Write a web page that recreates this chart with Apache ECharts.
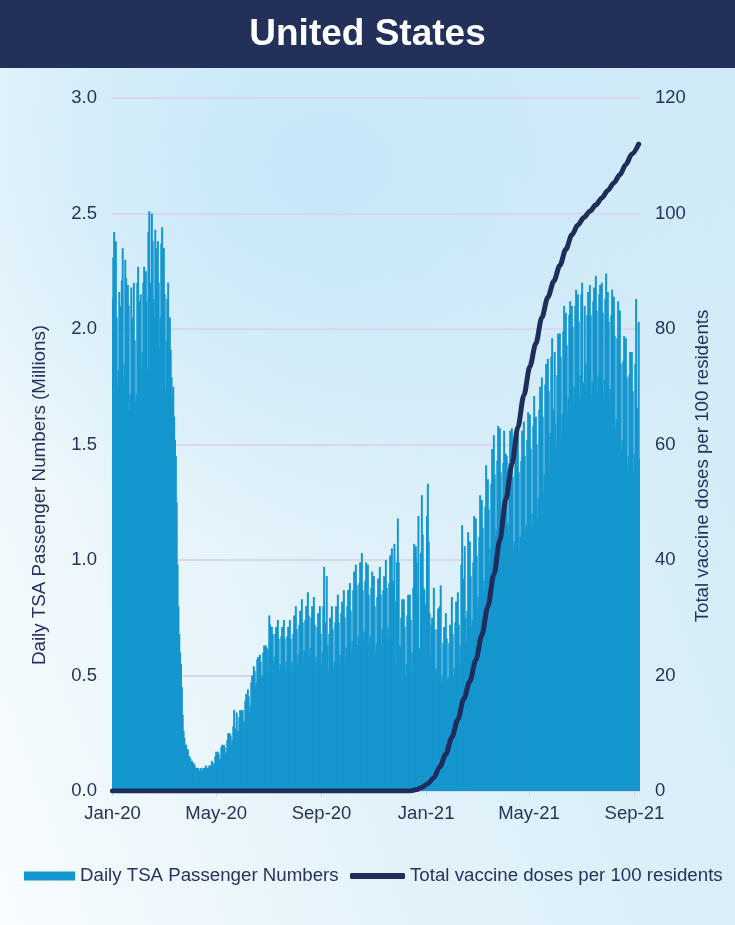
<!DOCTYPE html>
<html>
<head>
<meta charset="utf-8">
<script src="https://cdn.jsdelivr.net/npm/echarts@6/dist/echarts.min.js"></script>
<style>
  html, body { margin: 0; padding: 0; }
  #chart {
    width: 735px; height: 925px;
    background:
      radial-gradient(ellipse 62% 42% at 44% 18%, rgba(196,230,248,0.95) 0%, rgba(196,230,248,0) 100%),
      linear-gradient(70deg, #f8fcfe 0%, #e2f2fa 40%, #d0eaf7 100%);
  }
</style>
</head>
<body>
<div id="chart"></div>
<script>
// Daily TSA checkpoint throughput, millions of passengers (one value per day from 1 Jan 2020)
const tsa2020Jan = [2.13, 2.31, 2.42, 2.24, 2.38, 2.05, 1.75, 1.82, 2.16, 2.10, 1.80, 2.21, 2.35, 1.78, 1.85, 2.30, 2.22, 1.84, 2.19, 2.10, 1.65, 1.72, 2.18, 2.05, 1.66, 2.20, 1.95, 1.68, 1.72, 2.20, 2.27];
const tsa2020Feb = [1.80, 2.12, 2.15, 1.83, 1.90, 2.20, 2.27, 1.95, 2.25, 2.12, 1.82, 2.42, 2.51, 2.20, 1.93, 2.50, 2.38, 2.13, 2.05, 2.43, 2.35, 1.98, 2.38, 2.20, 1.92, 2.05, 2.37, 2.44, 2.00];
const tsa2020Mar = [2.35, 2.15, 1.74, 1.95, 2.13, 2.20, 1.90, 2.05, 1.91, 1.79, 1.71, 1.75, 1.62, 1.52, 1.45, 1.25, 0.98, 0.80, 0.68, 0.60, 0.55, 0.45, 0.33, 0.26, 0.23, 0.20, 0.20, 0.18, 0.18, 0.15, 0.15];
const tsa2020Apr = [0.14, 0.13, 0.13, 0.12, 0.12, 0.11, 0.10, 0.10, 0.10, 0.10, 0.09, 0.09, 0.10, 0.09, 0.09, 0.10, 0.10, 0.09, 0.11, 0.10, 0.10, 0.10, 0.11, 0.11, 0.10, 0.13, 0.12, 0.11, 0.12, 0.15];
const tsa2020May = [0.17, 0.13, 0.17, 0.16, 0.13, 0.14, 0.19, 0.20, 0.15, 0.20, 0.19, 0.16, 0.17, 0.22, 0.25, 0.19, 0.25, 0.24, 0.20, 0.22, 0.28, 0.35, 0.26, 0.27, 0.34, 0.26, 0.26, 0.32, 0.35, 0.27, 0.35];
const tsa2020Jun = [0.35, 0.30, 0.30, 0.39, 0.42, 0.35, 0.44, 0.41, 0.34, 0.37, 0.47, 0.50, 0.42, 0.54, 0.52, 0.45, 0.47, 0.57, 0.58, 0.49, 0.59, 0.56, 0.49, 0.50, 0.60, 0.63, 0.51, 0.63, 0.62, 0.53];
const tsa2020Jul = [0.61, 0.76, 0.72, 0.47, 0.71, 0.68, 0.55, 0.58, 0.68, 0.71, 0.56, 0.74, 0.66, 0.52, 0.55, 0.67, 0.71, 0.56, 0.74, 0.66, 0.53, 0.56, 0.67, 0.71, 0.57, 0.74, 0.66, 0.52, 0.56, 0.68, 0.76];
const tsa2020Aug = [0.59, 0.80, 0.70, 0.55, 0.59, 0.72, 0.78, 0.60, 0.83, 0.73, 0.57, 0.61, 0.74, 0.80, 0.63, 0.86, 0.76, 0.58, 0.62, 0.75, 0.80, 0.62, 0.84, 0.72, 0.54, 0.58, 0.71, 0.77, 0.59, 0.80, 0.68];
const tsa2020Sep = [0.55, 0.60, 0.80, 0.97, 0.68, 0.73, 0.93, 0.63, 0.52, 0.68, 0.75, 0.57, 0.80, 0.70, 0.53, 0.56, 0.73, 0.80, 0.61, 0.85, 0.73, 0.55, 0.59, 0.77, 0.82, 0.62, 0.87, 0.75, 0.58, 0.62];
const tsa2020Oct = [0.80, 0.87, 0.64, 0.90, 0.78, 0.60, 0.65, 0.87, 0.95, 0.70, 0.98, 0.89, 0.63, 0.67, 0.90, 0.99, 0.72, 1.03, 0.87, 0.65, 0.69, 0.91, 0.99, 0.71, 0.98, 0.85, 0.64, 0.67, 0.88, 0.95, 0.64];
const tsa2020Nov = [0.93, 0.80, 0.60, 0.64, 0.84, 0.92, 0.67, 0.97, 0.85, 0.63, 0.70, 0.87, 0.93, 0.70, 1.00, 0.88, 0.66, 0.71, 0.90, 1.02, 0.86, 1.05, 0.91, 0.91, 1.07, 0.56, 0.82, 0.99, 1.18, 0.99];
const tsa2020Dec = [0.63, 0.62, 0.75, 0.83, 0.56, 0.83, 0.71, 0.50, 0.55, 0.76, 0.85, 0.61, 0.85, 0.74, 0.53, 0.60, 0.88, 1.07, 0.91, 1.06, 0.99, 0.84, 1.19, 0.61, 0.62, 1.03, 1.28, 1.11, 0.88, 0.87, 0.81];
const tsa2021Jan = [0.65, 1.19, 1.33, 1.08, 0.77, 0.60, 0.72, 0.75, 0.58, 0.88, 0.70, 0.51, 0.53, 0.70, 0.79, 0.58, 0.80, 0.89, 0.50, 0.47, 0.64, 0.71, 0.52, 0.77, 0.66, 0.48, 0.49, 0.64, 0.72, 0.54, 0.84];
const tsa2021Feb = [0.68, 0.50, 0.53, 0.73, 0.82, 0.60, 0.86, 0.72, 0.56, 0.63, 0.98, 1.15, 0.81, 0.92, 1.06, 0.75, 0.64, 0.78, 1.12, 0.85, 1.08, 0.93, 0.71, 0.74, 0.99, 1.19, 0.91, 1.18];
const tsa2021Mar = [1.02, 0.79, 0.84, 1.10, 1.28, 1.01, 1.26, 1.14, 0.87, 0.91, 1.23, 1.41, 1.15, 1.35, 1.22, 0.99, 1.05, 1.33, 1.48, 1.24, 1.54, 1.37, 1.10, 1.13, 1.43, 1.58, 1.30, 1.57, 1.38, 1.07, 1.10];
const tsa2021Apr = [1.42, 1.56, 1.20, 1.46, 1.45, 1.16, 1.11, 1.42, 1.56, 1.25, 1.57, 1.36, 1.04, 1.08, 1.41, 1.53, 1.20, 1.55, 1.38, 1.05, 1.10, 1.43, 1.56, 1.25, 1.60, 1.45, 1.12, 1.15, 1.52, 1.64];
const tsa2021May = [1.30, 1.63, 1.48, 1.15, 1.20, 1.58, 1.71, 1.35, 1.62, 1.50, 1.18, 1.27, 1.65, 1.75, 1.42, 1.79, 1.62, 1.30, 1.37, 1.76, 1.85, 1.52, 1.87, 1.73, 1.41, 1.55, 1.88, 1.96, 1.65, 1.65, 1.90];
const tsa2021Jun = [1.59, 1.50, 1.80, 1.98, 1.69, 1.98, 1.88, 1.55, 1.63, 1.99, 2.10, 1.79, 2.07, 1.93, 1.63, 1.70, 2.06, 2.12, 1.77, 2.10, 2.01, 1.68, 1.75, 2.10, 2.17, 1.85, 2.15, 2.03, 1.70, 1.80];
const tsa2021Jul = [2.15, 2.20, 1.75, 1.77, 2.10, 1.85, 1.73, 2.06, 2.16, 1.79, 2.19, 2.06, 1.72, 1.77, 2.12, 2.18, 1.82, 2.23, 2.08, 1.73, 1.80, 2.15, 2.19, 1.83, 2.20, 2.07, 1.71, 1.78, 2.13, 2.24, 1.80];
const tsa2021Aug = [2.16, 2.03, 1.68, 1.74, 2.06, 2.17, 1.76, 2.14, 1.97, 1.57, 1.61, 1.96, 2.12, 1.68, 2.08, 1.85, 1.47, 1.52, 1.86, 1.97, 1.56, 1.96, 1.79, 1.40, 1.45, 1.80, 1.90, 1.51, 1.90, 1.73, 1.38];
const tsa2021Sep = [1.46, 1.85, 2.13, 1.66, 1.64, 2.03, 1.44];

// Cumulative vaccine doses administered per 100 residents (weekly readings)
const vaxDates = ['2020-01-01', '2020-12-13', '2020-12-20', '2020-12-27', '2021-01-03', '2021-01-10', '2021-01-17',
  '2021-01-24', '2021-01-31', '2021-02-07', '2021-02-14', '2021-02-21', '2021-02-28', '2021-03-07', '2021-03-14',
  '2021-03-21', '2021-03-28', '2021-04-04', '2021-04-11', '2021-04-18', '2021-04-25', '2021-05-02', '2021-05-09',
  '2021-05-16', '2021-05-23', '2021-05-30', '2021-06-06', '2021-06-13', '2021-06-20', '2021-06-27', '2021-07-04',
  '2021-07-11', '2021-07-18', '2021-07-25', '2021-08-01', '2021-08-08', '2021-08-15', '2021-08-22', '2021-08-29',
  '2021-09-06'];
const vaxPer100 = [0, 0, 0.2, 0.6, 1.3, 2.3, 4.2,
  6.4, 9.3, 12.4, 16.0, 19.0, 22.7, 27.0, 32.0,
  37.5, 43.5, 50.5, 56.5, 63.0, 68.5, 73.5, 77.5,
  82.0, 85.5, 88.3, 91.0, 93.8, 96.3, 98.0, 99.3,
  100.4, 101.5, 102.7, 104.0, 105.3, 106.7, 108.5, 110.3,
  112.0];

// Axis ticks
const leftTicks = [0, 0.5, 1.0, 1.5, 2.0, 2.5, 3.0];
const rightTicks = [0, 20, 40, 60, 80, 100, 120];
const monthNames = ['Jan', 'Feb', 'Mar', 'Apr', 'May', 'Jun', 'Jul', 'Aug', 'Sep', 'Oct', 'Nov', 'Dec'];
const labelledMonths = [1, 5, 9];

const seriesBarName = 'Daily TSA Passenger Numbers';
const seriesLineName = 'Total vaccine doses per 100 residents';

const tsaDaily = [].concat(
  tsa2020Jan, tsa2020Feb, tsa2020Mar, tsa2020Apr, tsa2020May, tsa2020Jun,
  tsa2020Jul, tsa2020Aug, tsa2020Sep, tsa2020Oct, tsa2020Nov, tsa2020Dec,
  tsa2021Jan, tsa2021Feb, tsa2021Mar, tsa2021Apr, tsa2021May, tsa2021Jun,
  tsa2021Jul, tsa2021Aug, tsa2021Sep
);

const DAY_MS = 86400000;
const firstDay = Date.UTC(2020, 0, 1);
const days = tsaDaily.map((_, i) => new Date(firstDay + i * DAY_MS).toISOString().slice(0, 10));

const vaxSeries = days.map(d => {
  const k = vaxDates.indexOf(d);
  return k >= 0 ? vaxPer100[k] : null;
});

function isLabelDay(value) {
  return value.slice(8, 10) === '01' && labelledMonths.indexOf(+value.slice(5, 7)) >= 0;
}

const NAVY = '#1f2d5a';
const TEXT = '#25335f';
const BAR = '#1596ce';
const FONT = '"Liberation Sans", Arial, sans-serif';

const chart = echarts.init(document.getElementById('chart'), null, { renderer: 'canvas' });

chart.setOption({
  backgroundColor: 'transparent',
  animation: false,
  textStyle: { fontFamily: FONT },
  grid: { left: 112, right: 95, top: 98, bottom: 134 },
  graphic: [
    { type: 'rect', shape: { x: 0, y: 0, width: 735, height: 68 }, style: { fill: '#22305a' }, z: 10 },
    { type: 'text', x: 367.5, y: 35, z: 11,
      style: { text: 'United States', fill: '#ffffff', font: 'bold 37px ' + FONT,
               textAlign: 'center', textVerticalAlign: 'middle', align: 'center', verticalAlign: 'middle' } },
    { type: 'text', x: 40, y: 495, rotation: Math.PI / 2,
      style: { text: 'Daily TSA Passenger Numbers (Millions)', fill: TEXT, font: '18.8px ' + FONT,
               textAlign: 'center', textVerticalAlign: 'middle', align: 'center', verticalAlign: 'middle' } },
    { type: 'text', x: 703, y: 466, rotation: Math.PI / 2,
      style: { text: 'Total vaccine doses per 100 residents', fill: TEXT, font: '18.7px ' + FONT,
               textAlign: 'center', textVerticalAlign: 'middle', align: 'center', verticalAlign: 'middle' } }
  ],
  legend: [
    {
      left: 24, top: 866, padding: 0, itemWidth: 51, itemHeight: 9, selectedMode: false,
      data: [{ name: seriesBarName, icon: 'rect' }],
      textStyle: { color: TEXT, fontSize: 18.7, fontFamily: FONT, lineHeight: 20 }
    },
    {
      left: 350, top: 866, padding: 0, itemWidth: 55, itemHeight: 6, selectedMode: false,
      data: [{ name: seriesLineName, icon: 'roundRect', itemStyle: { color: NAVY } }],
      textStyle: { color: TEXT, fontSize: 18.7, fontFamily: FONT, lineHeight: 20 }
    }
  ],
  xAxis: {
    type: 'category',
    data: days,
    boundaryGap: true,
    axisLine: { show: false },
    axisTick: {
      show: true, alignWithLabel: true, length: 5,
      interval: (i, v) => isLabelDay(v),
      lineStyle: { color: '#cdd2e6', width: 1 }
    },
    axisLabel: {
      interval: (i, v) => isLabelDay(v),
      formatter: v => monthNames[+v.slice(5, 7) - 1] + '-' + v.slice(2, 4),
      color: TEXT, fontSize: 18.5, fontFamily: FONT, margin: 13
    },
    splitLine: { show: false }
  },
  yAxis: [
    {
      type: 'value', min: leftTicks[0], max: leftTicks[leftTicks.length - 1], interval: 0.5,
      axisLine: { show: false }, axisTick: { show: false },
      axisLabel: { color: TEXT, fontSize: 18.5, fontFamily: FONT, margin: 15, formatter: v => v.toFixed(1) },
      splitLine: { show: true, lineStyle: { color: '#d8d7ee', width: 2 } }
    },
    {
      type: 'value', min: rightTicks[0], max: rightTicks[rightTicks.length - 1], interval: 20,
      axisLine: { show: false }, axisTick: { show: false },
      axisLabel: { color: TEXT, fontSize: 18.5, fontFamily: FONT, margin: 15 },
      splitLine: { show: false }
    }
  ],
  series: [
    {
      name: seriesBarName,
      type: 'bar',
      data: tsaDaily,
      yAxisIndex: 0,
      barWidth: 2,
      barGap: '-100%',
      itemStyle: { color: BAR },
      z: 2
    },
    {
      name: seriesLineName,
      type: 'line',
      data: vaxSeries,
      yAxisIndex: 1,
      connectNulls: true,
      showSymbol: false,
      symbol: 'none',
      smooth: 0.3,
      smoothMonotone: 'x',
      lineStyle: { color: NAVY, width: 5, cap: 'round', join: 'round' },
      itemStyle: { color: NAVY },
      z: 5
    }
  ]
});
</script>
</body>
</html>
